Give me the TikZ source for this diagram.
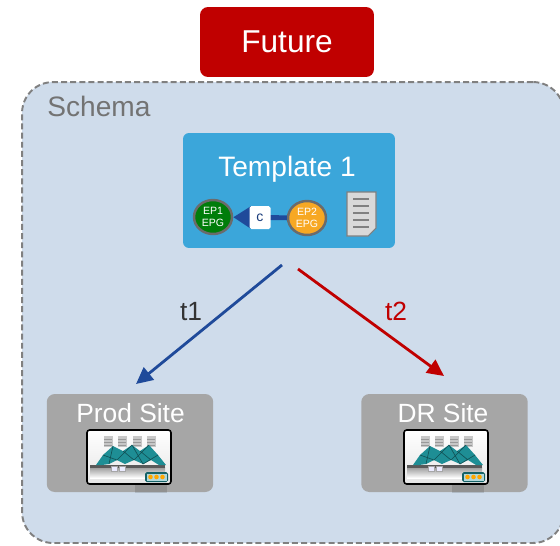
\documentclass[tikz,border=0pt]{standalone}
\usepackage{fontspec}
\setmainfont{Liberation Sans}
\usetikzlibrary{arrows.meta, shapes.geometric}

\definecolor{futurered}{HTML}{C00000}
\definecolor{schemafill}{HTML}{CFDCEB}
\definecolor{tplblue}{HTML}{3BA6DA}
\definecolor{sitegray}{HTML}{A6A6A6}
\definecolor{linkblue}{HTML}{1F4A9A}
\definecolor{epgreen}{HTML}{007D0A}
\definecolor{eporange}{HTML}{F7A823}
\definecolor{dcteal}{HTML}{1E8E95}

% small data centre picture used inside the site boxes
\tikzset{
  dcicon/.pic={
    \fill[black, opacity=.12] (6,27) rectangle (38,36);
    \draw[line width=0.9pt, rounded corners=1.5pt, top color=white, bottom color=black!10] (-42,-27) rectangle (42,27);
    % racks
    \foreach \sx in {-21,-7,8,22}{
      \fill[black!22] (\sx-4.5,-21) rectangle (\sx+4.5,-10);
      \foreach \sy in {-18,-15,-12}
        \draw[black!40, line width=0.25pt] (\sx-4,\sy) -- (\sx+4,\sy);
    }
    % floor and its shadow
    \shade[top color=black!40, bottom color=white] (-39,10) rectangle (36,21);
    \fill[black!65] (-39,8) rectangle (36,10.5);
    % truss roof
    \fill[dcteal] (-33,8) -- (-26,-2) -- (-16,-11) -- (-6,-6) -- (3,-12) -- (11,-6) -- (20,-12) -- (29,-2) -- (37,8)
      -- (30,8) -- (22,3) -- (14,7) -- (5,3) -- (-4,7) -- (-12,3) -- (-20,7) -- (-27,8) -- cycle;
    \draw[dcteal!55!black, line width=0.35pt] (-26,-2) -- (-12,3) -- (3,-12) -- (14,7) -- (29,-2)
      (-16,-11) -- (-20,7) (-6,-6) -- (5,3) -- (20,-12) (11,-6) -- (22,3);
    % cubes
    \foreach \cx in {-15,-7}
      \fill[blue!8, draw=black!35, line width=0.2pt] (\cx-3,9) rectangle (\cx+3,14);
    % badge
    \fill[dcteal!70!black, rounded corners=1pt] (16,15) rectangle (39,25);
    \fill[dcteal!35] (17.5,16.5) rectangle (37.5,23.5);
    \foreach \bx in {21.5,27.5,33.5}
      \fill[orange!70!yellow] (\bx,20) circle (2.3);
  }
}

\begin{document}
\begin{tikzpicture}[
    x=0.02cm, y=-0.02cm,
    futurebox/.style={fill=futurered, rounded corners=0.16cm, text=white, inner sep=0pt, font=\fontsize{18}{20}\selectfont},
    schemabox/.style={fill=schemafill, draw=black!50, line width=1.1pt, dash pattern=on 3.4pt off 1.8pt, rounded corners=0.62cm},
    tplbox/.style={fill=tplblue, rounded corners=0.12cm},
    sitebox/.style={fill=sitegray, rounded corners=0.16cm, minimum width=3.33cm, minimum height=1.96cm},
    epg/.style={ellipse, draw=black!58, line width=1.4pt, text=white, inner sep=0pt, minimum width=0.76cm, minimum height=0.68cm, align=center, font=\fontsize{6}{6.5}\selectfont},
    cbox/.style={fill=white, rounded corners=1pt, minimum width=0.42cm, minimum height=0.46cm, inner sep=0pt, text=linkblue!80!black, font=\fontsize{8}{9}\selectfont},
    link/.style={line width=1.6pt, -{Triangle[length=9.5pt, width=9pt]}},
    title/.style={anchor=base, inner sep=0pt, font=\fontsize{16}{18}\selectfont},
    >=Stealth
  ]
  \useasboundingbox (0,0) rectangle (560,545);
  \clip (0,0) rectangle (560,545);

  \node[futurebox, minimum width=3.48cm, minimum height=1.4cm] (future) at (287,42) {Future};

  % schema frame
  \node[schemabox, minimum width=10.84cm, minimum height=9.22cm] (schema) at (293,312.5) {};
  \node[title, anchor=base west, text=black!55] (schemalbl) at (47,116) {Schema};

  % template with its two EPGs
  \node[tplbox, minimum width=4.24cm, minimum height=2.3cm] (tpl) at (289,190.5) {};
  \node[title, text=white] (tpllbl) at (287,176) {Template 1};
  \node[epg, fill=epgreen] (ep1) at (213,217) {EP1\\EPG};
  \node[epg, fill=eporange] (ep2) at (307,218) {EP2\\EPG};
  \draw[linkblue, line width=2.8pt, -{Triangle[length=10pt, width=12pt]}] (ep2) -- node[cbox] (c) {c} (ep1);

  % template document
  \filldraw[fill=black!15, draw=black!50, line width=0.6pt] (347,192) -- (376,192) -- (376,228) -- (368,236) -- (347,236) -- cycle;
  \foreach \ly in {199,206,213,220,227}
    \draw[black!50, line width=1.2pt] (353,\ly) -- (369,\ly);

  % sites
  \node[sitebox] (prod) at (130,443) {};
  \node[title, text=white, font=\fontsize{15}{17}\selectfont] (prodlbl) at (130.5,422) {Prod Site};
  \pic at (129,457) {dcicon};
  \node[sitebox] (dr) at (444.5,443) {};
  \node[title, text=white, font=\fontsize{15}{17}\selectfont] (drlbl) at (443,422) {DR Site};
  \pic at (446,457) {dcicon};

  % deployment links
  \coordinate (fork1) at (282,265);
  \coordinate (fork2) at (298,269);
  \coordinate (tip1) at (136,384);
  \coordinate (tip2) at (444,376);
  \draw[link, linkblue] (fork1) -- (tip1);
  \draw[link, futurered] (fork2) -- (tip2);
  \node[title, text=black!80, font=\fontsize{15}{17}\selectfont] (t1) at (191,320) {t1};
  \node[title, text=futurered, font=\fontsize{15}{17}\selectfont] (t2) at (396,320) {t2};
\end{tikzpicture}
\end{document}
